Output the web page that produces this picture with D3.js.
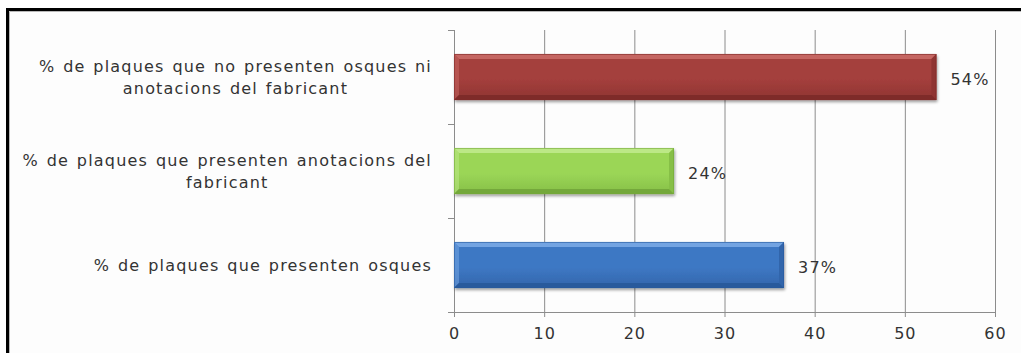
<!DOCTYPE html>
<html>
<head>
<meta charset="utf-8">
<script src="https://cdn.jsdelivr.net/npm/d3@7"></script>
<style>
  html, body { margin: 0; padding: 0; background: #ffffff; }
  svg { display: block; }
</style>
</head>
<body>
<svg id="chart" width="1021" height="353"></svg>
<script>
// Category labels (each entry is a list of text lines), top to bottom
const categories = [
  ["% de plaques que no presenten osques ni", "anotacions del fabricant"],
  ["% de plaques que presenten anotacions del", "fabricant"],
  ["% de plaques que presenten osques"]
];
const values = [53.5, 24.4, 36.6];
const xTicks = [0, 10, 20, 30, 40, 50, 60];
const colors = [
  { base: "#a43f3c", light: "#c96a66", dark: "#7e2b29", side: "#8f3432" },
  { base: "#9bd657", light: "#c0ea8c", dark: "#74a83b", side: "#86bf47" },
  { base: "#3e78c4", light: "#79a9e6", dark: "#285a9c", side: "#3265ab" }
];

(function draw() {
  const svg = d3.select("#chart");
  const W = 1021, H = 353;
  const mLeft = 454, mRight = 995, mTop = 30, mBottom = 312;
  const FONT = "'DejaVu Sans', Verdana, sans-serif";
  const textColor = "#333333";
  const pct = v => d3.format(".0f")(v) + "%";

  // background and frame
  svg.append("rect").attr("width", W).attr("height", H).attr("fill", "#ffffff");
  svg.append("rect").attr("x", 7.5).attr("y", 9.5).attr("width", W + 20).attr("height", H + 20)
    .attr("fill", "#fdfdfd").attr("stroke", "#000").attr("stroke-width", 3);
  svg.append("path").attr("d", `M9.5,${H} V11.5 H${W}`)
    .attr("fill", "none").attr("stroke", "#b8b8b8").attr("stroke-width", 1);

  const x = d3.scaleLinear().domain([0, 60]).range([mLeft, mRight]);
  const y = d3.scaleBand().domain(d3.range(categories.length)).range([mTop, mBottom]).paddingInner(0.51).paddingOuter(0.255);
  const yb = d3.scaleBand().domain(d3.range(categories.length)).range([mTop, mBottom]);

  const defs = svg.append("defs");
  const shadow = defs.append("filter").attr("id", "shadow").attr("x", "-5%").attr("y", "-20%").attr("width", "110%").attr("height", "150%");
  shadow.append("feGaussianBlur").attr("in", "SourceAlpha").attr("stdDeviation", 1.6);
  shadow.append("feOffset").attr("dx", 1).attr("dy", 2).attr("result", "off");
  shadow.append("feComponentTransfer").append("feFuncA").attr("type", "linear").attr("slope", 0.4);
  const merge = shadow.append("feMerge");
  merge.append("feMergeNode");
  merge.append("feMergeNode").attr("in", "SourceGraphic");

  colors.forEach((c, i) => {
    const g = defs.append("linearGradient").attr("id", "grad" + i).attr("x1", 0).attr("y1", 0).attr("x2", 0).attr("y2", 1);
    g.append("stop").attr("offset", "0%").attr("stop-color", c.base);
    g.append("stop").attr("offset", "55%").attr("stop-color", c.base);
    g.append("stop").attr("offset", "100%").attr("stop-color", c.side);
  });

  // gridlines
  svg.append("g").selectAll("line").data(xTicks.slice(1)).join("line")
    .attr("x1", d => x(d) + 0.5).attr("x2", d => x(d) + 0.5)
    .attr("y1", mTop).attr("y2", mBottom)
    .attr("stroke", "#8c8c8c").attr("stroke-width", 1);

  // x axis
  const xAxis = svg.append("g").attr("transform", `translate(0,${mBottom})`)
    .call(d3.axisBottom(x).tickValues(xTicks).tickSize(5).tickPadding(11).tickFormat(d3.format("d")));
  xAxis.select(".domain").attr("stroke", "#8c8c8c").attr("d", `M${mLeft - 6},0.5H${mRight}`);
  xAxis.selectAll(".tick line").attr("stroke", "#8c8c8c");
  xAxis.selectAll(".tick text").attr("fill", textColor).attr("font-family", FONT)
    .attr("font-size", 16).attr("letter-spacing", 1);

  // y axis line with ticks at category boundaries
  const yAxis = svg.append("g").attr("transform", `translate(${mLeft},0)`)
    .call(d3.axisLeft(d3.scaleLinear().domain([0, 3]).range([mBottom, mTop])).ticks(3).tickSize(6).tickFormat(""));
  yAxis.select(".domain").attr("stroke", "#8c8c8c").attr("d", `M0.5,${mTop}V${mBottom}`);
  yAxis.selectAll(".tick line").attr("stroke", "#8c8c8c");

  // bars with bevelled edges
  const bars = svg.append("g").selectAll("g").data(values).join("g");
  bars.each(function(v, i) {
    const g = d3.select(this);
    const c = colors[i];
    const x0 = x(0), x1 = x(v), y0 = y(i), y1 = y(i) + y.bandwidth();
    const b = 5;
    g.append("rect").attr("x", x0).attr("y", y0).attr("width", x1 - x0).attr("height", y1 - y0)
      .attr("fill", `url(#grad${i})`).attr("filter", "url(#shadow)");
    g.append("path").attr("d", `M${x0},${y0}H${x1}L${x1 - b},${y0 + b}H${x0 + b}Z`).attr("fill", c.light).attr("opacity", 0.9);
    g.append("path").attr("d", `M${x0},${y0}L${x0 + b},${y0 + b}V${y1 - b}L${x0},${y1}Z`).attr("fill", c.light).attr("opacity", 0.5);
    g.append("path").attr("d", `M${x1},${y0}L${x1 - b},${y0 + b}V${y1 - b}L${x1},${y1}Z`).attr("fill", c.side);
    g.append("path").attr("d", `M${x0},${y1}L${x0 + b},${y1 - b}H${x1 - b}L${x1},${y1}Z`).attr("fill", c.dark);
    g.append("rect").attr("x", x0 + 0.5).attr("y", y0 + 0.5).attr("width", x1 - x0 - 1).attr("height", y1 - y0 - 1)
      .attr("fill", "none").attr("stroke", c.dark).attr("stroke-width", 1).attr("opacity", 0.6);
  });

  // value labels
  svg.append("g").selectAll("text").data(values).join("text")
    .attr("x", d => x(d) + 14)
    .attr("y", (d, i) => y(i) + y.bandwidth() / 2 + 2)
    .attr("dy", "0.36em")
    .attr("font-family", FONT).attr("font-size", 16).attr("letter-spacing", 1.2).attr("fill", textColor)
    .text(d => pct(d));

  // category labels: centred lines in a block right-aligned next to the axis
  const lineH = 21.5;
  categories.forEach((lines, i) => {
    const cy = yb(i) + yb.bandwidth() / 2;
    const t = svg.append("text").attr("font-family", FONT).attr("font-size", 16)
      .attr("letter-spacing", 1.2).attr("word-spacing", 1.5).attr("fill", textColor)
      .attr("text-anchor", "middle");
    const spans = lines.map(s => t.append("tspan").text(s));
    const widths = spans.map(sp => sp.node().getComputedTextLength());
    const wmax = d3.max(widths);
    const cx = 432 - wmax / 2;
    spans.forEach((sp, k) => {
      sp.attr("x", cx).attr("y", cy + (k - (lines.length - 1) / 2) * lineH).attr("dy", "0.36em");
    });
  });
})();
</script>
</body>
</html>
